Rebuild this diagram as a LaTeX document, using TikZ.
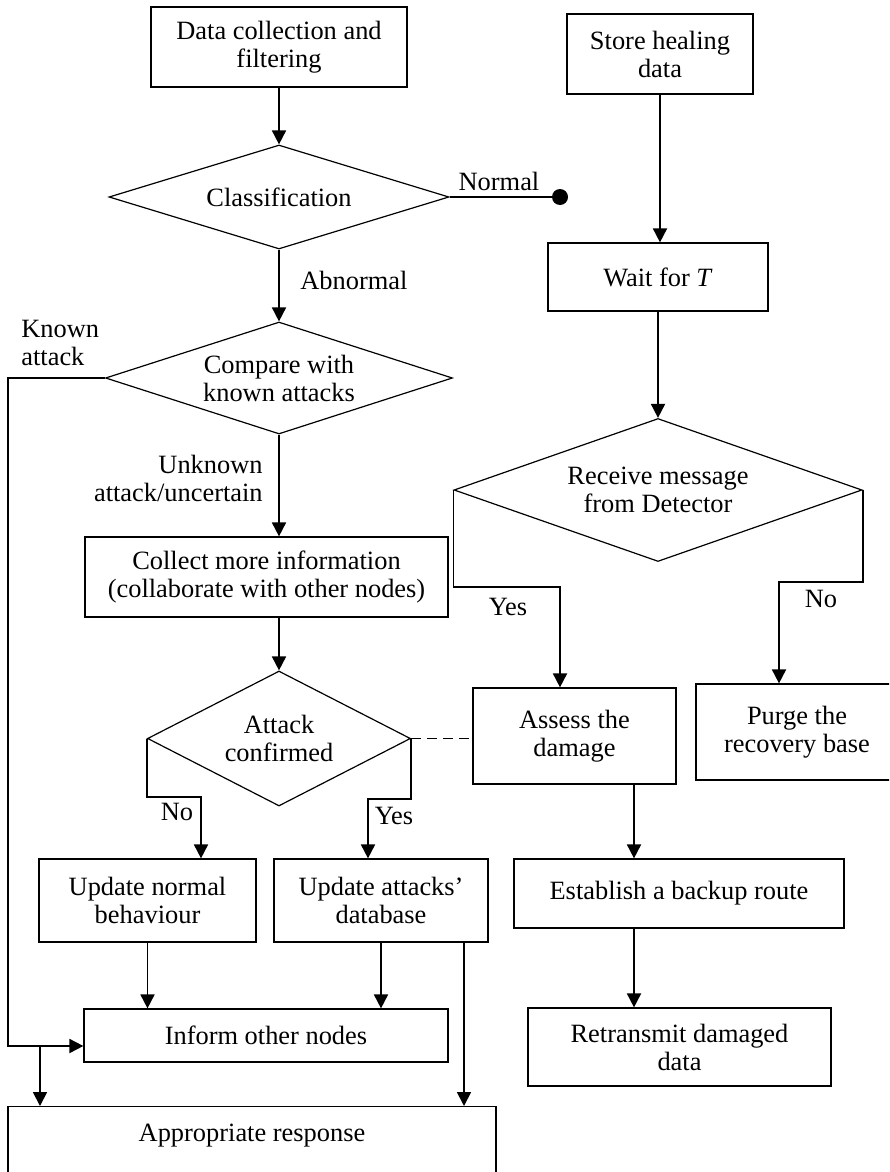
\documentclass[tikz,border=0pt]{standalone}
\usepackage{fontspec}
\setmainfont{Liberation Serif}
\usetikzlibrary{positioning,arrows.meta,shapes.geometric,calc}

\newcommand{\chartfont}{\fontsize{13.2pt}{14pt}\selectfont}

\begin{document}
\begin{tikzpicture}[
  x=0.5pt, y=-0.5pt,
  >={Triangle[length=7pt,width=7pt]},
  box/.style={
    draw, line width=0.6pt, align=center, inner sep=2pt, font=\chartfont
  },
  decision/.style={
    diamond, draw, line width=0.6pt, align=center, inner sep=0pt, font=\chartfont
  },
  lbl/.style={font=\chartfont, inner sep=2pt},
  arrow/.style={->, line width=0.9pt},
  link/.style={line width=0.9pt}
]
\useasboundingbox (0,0) rectangle (889,1172);
\clip (0,0) rectangle (889,1172);

% detection side
\node[box, minimum width=128pt, minimum height=40pt] (collect) at (279,47) {Data collection and\\filtering};
\node[decision, aspect=3.27, minimum width=170pt, minimum height=52pt] (classify) at (279,197) {Classification};
\node[decision, aspect=3.1, minimum width=173.5pt, minimum height=56pt] (compare) at (279,378) {Compare with\\known attacks};
\node[box, minimum width=181.5pt, minimum height=40pt] (moreinfo) at (266.5,577) {Collect more information\\(collaborate with other nodes)};
\node[decision, aspect=1.95, minimum width=131.5pt, minimum height=67.5pt] (confirm) at (279,738.5) {Attack\\confirmed};
\node[box, minimum width=108.5pt, minimum height=41.5pt] (normbeh) at (147.5,900.5) {Update normal\\behaviour};
\node[box, minimum width=107pt, minimum height=41.5pt] (attdb) at (381,900.5) {Update attacks'\\database};
\node[box, minimum width=182pt, minimum height=26.5pt] (inform) at (266,1035.5) {Inform other nodes};
\node[box, anchor=north, minimum width=244pt, text height=9pt, text depth=40pt, inner ysep=8.5pt] (response) at (252,1106) {Appropriate response};

% recovery side
\node[box, minimum width=93pt, minimum height=40pt] (store) at (660,54) {Store healing\\data};
\node[box, minimum width=110pt, minimum height=34pt] (wait) at (658,277) {Wait for \textit{T}};
\node[decision, aspect=2.85, minimum width=204pt, minimum height=71.5pt] (receive) at (658,490) {Receive message\\from Detector};
\node[box, minimum width=101.5pt, minimum height=48pt] (assess) at (574.5,736) {Assess the\\damage};
\node[box, minimum width=101pt, minimum height=48pt] (purge) at (797,732) {Purge the\\recovery base};
\node[box, minimum width=165pt, minimum height=34.5pt] (backup) at (679,893.5) {Establish a backup route};
\node[box, minimum width=151.5pt, minimum height=39pt] (retrans) at (679.5,1047) {Retransmit damaged\\data};

% labels
\node[lbl] (lnormal) at (499,181) {Normal};
\node[lbl, anchor=west] (labnormal) at (296,280) {Abnormal};
\node[lbl, anchor=west, align=left] (lknown) at (17,343) {Known\\attack};
\node[lbl, anchor=east, align=right] (lunknown) at (267,478) {Unknown\\attack/uncertain};
\node[lbl] (lconfno) at (177,812) {No};
\node[lbl] (lconfyes) at (394,816) {Yes};
\node[lbl] (lrecvyes) at (508,607) {Yes};
\node[lbl] (lrecvno) at (821,599) {No};

% bends
\coordinate (normend) at (560,197);
\coordinate (kbend) at (8,1046);
\coordinate (rsplit) at (40,1046);
\coordinate (nobend) at (201,797);
\coordinate (yesbend) at (368,799);
\coordinate (dbout) at ([xshift=41.5pt]attdb.south);
\coordinate (ryes) at (560,587);
\coordinate (rno) at (779,582);
\coordinate (asout) at ([xshift=29.75pt]assess.south);

% detection connectors
\draw[arrow] (collect.south) -- (classify.north);
\draw[link] (classify.east) -- (normend);
\fill (normend) circle (4pt);
\draw[arrow] (classify.south) -- (compare.north);
\draw[arrow] (compare.west) -| (kbend) -- (kbend -| inform.west);
\draw[arrow] (rsplit) -- (rsplit |- response.north);
\draw[arrow] (compare.south) -- (compare.south |- moreinfo.north);
\draw[arrow] (confirm.north |- moreinfo.south) -- (confirm.north);
\draw[link, dashed, dash pattern=on 5pt off 3pt] (confirm.east) -- (assess.west |- confirm.east);
\draw[arrow] (confirm.west) |- (nobend) -- (nobend |- normbeh.north);
\draw[arrow] (confirm.east) |- (yesbend) -- (yesbend |- attdb.north);
\draw[arrow] (normbeh.south) -- (normbeh.south |- inform.north);
\draw[arrow] (attdb.south) -- (attdb.south |- inform.north);
\draw[arrow] (dbout) -- (dbout |- response.north);

% recovery connectors
\draw[arrow] (store.south) -- (store.south |- wait.north);
\draw[arrow] (wait.south) -- (receive.north);
\draw[arrow] (receive.west) |- (ryes) -- (ryes |- assess.north);
\draw[arrow] (receive.east) |- (rno) -- (rno |- purge.north);
\draw[arrow] (asout) -- (asout |- backup.north);
\draw[arrow] (asout |- backup.south) -- (asout |- retrans.north);
\end{tikzpicture}
\end{document}
